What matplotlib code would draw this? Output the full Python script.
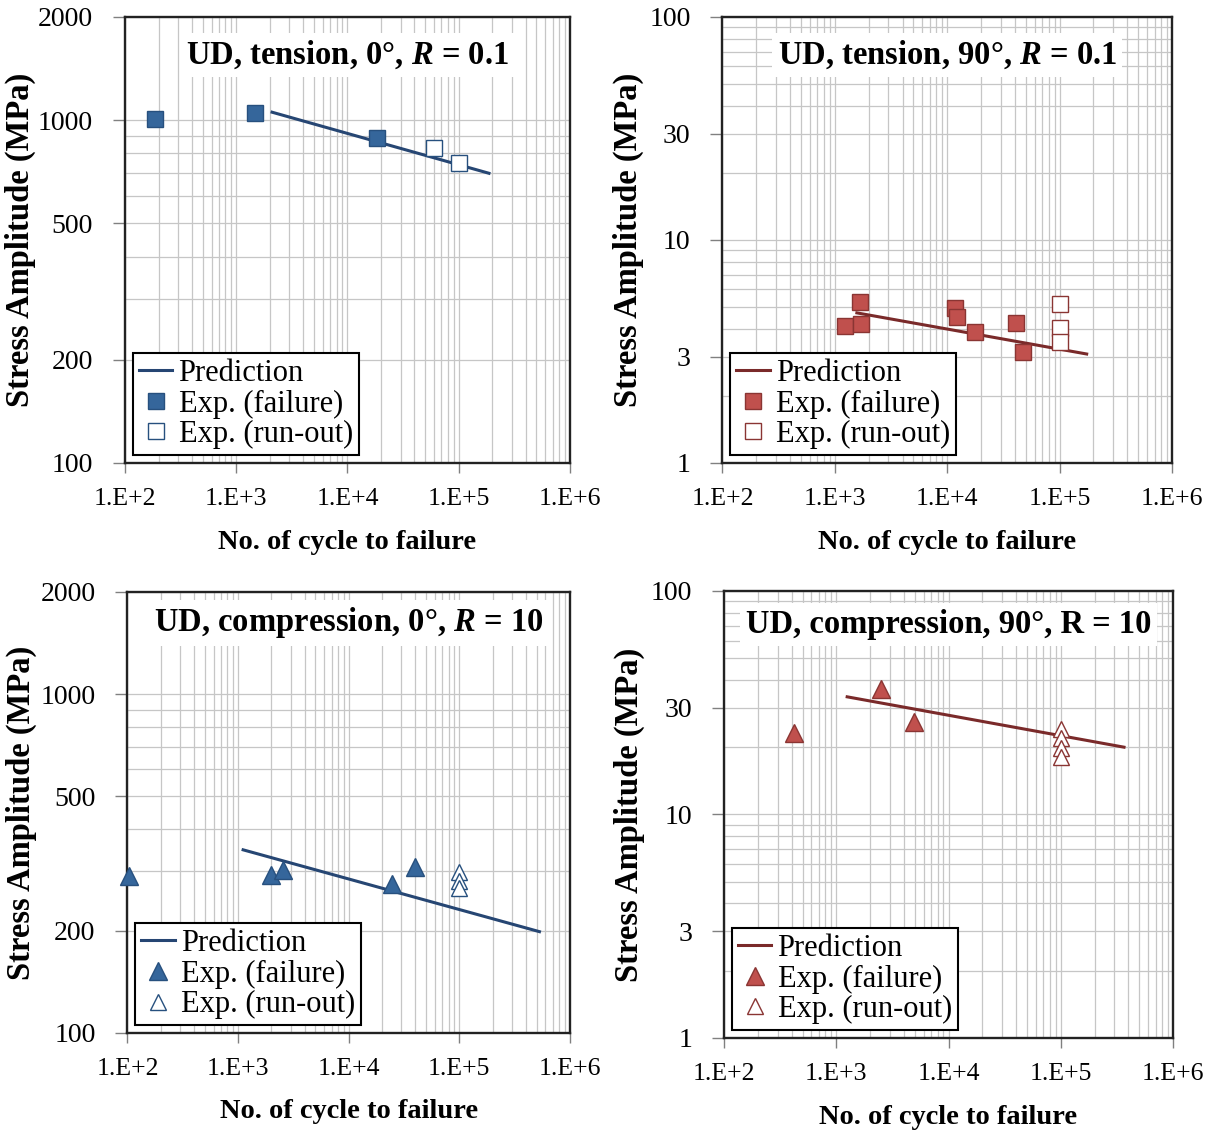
import numpy as np
import matplotlib
matplotlib.use('Agg')
from matplotlib import pyplot
from matplotlib.ticker import FixedLocator, NullFormatter, LogLocator, FixedFormatter

pyplot.rcParams['font.family'] = ['Liberation Serif', 'DejaVu Serif']
pyplot.rcParams['mathtext.fontset'] = 'custom'
pyplot.rcParams['mathtext.it'] = 'Liberation Serif:italic:bold'
pyplot.rcParams['mathtext.rm'] = 'Liberation Serif:bold'

BLUE_FILL = '#35669b'
BLUE_EDGE = '#27507e'
BLUE_LINE = '#264673'
RED_FILL = '#c0504d'
RED_EDGE = '#8a3533'
RED_LINE = '#7a2a2a'

X_LABEL = 'No. of cycle to failure'
Y_LABEL = 'Stress Amplitude (MPa)'
X_TICKS = [1e2, 1e3, 1e4, 1e5, 1e6]
X_TICK_LABELS = ['1.E+2', '1.E+3', '1.E+4', '1.E+5', '1.E+6']

# UD, tension, 0 deg
t0_fail_n = [185, 1480, 18600]
t0_fail_s = [1010, 1047, 887]
t0_run_n = [60000, 100000]
t0_run_s = [828, 750]
t0_pred_n = [2100, 187000]
t0_pred_s = [1055, 700]

# UD, tension, 90 deg
t90_fail_n = [1227, 1668, 1700, 11660, 12140, 17550, 40600, 46900]
t90_fail_s = [4.11, 5.27, 4.20, 4.96, 4.51, 3.87, 4.24, 3.15]
t90_run_n = [100000, 100000, 100000]
t90_run_s = [5.17, 4.03, 3.49]
t90_pred_n = [1570, 174000]
t90_pred_s = [4.71, 3.08]

# UD, compression, 0 deg
c0_fail_n = [103, 1990, 2550, 24700, 40000]
c0_fail_s = [290, 292, 303, 275, 309]
c0_run_n = [100000, 100000, 100000]
c0_run_s = [298, 280, 267]
c0_pred_n = [1110, 530000]
c0_pred_s = [347, 199]

# UD, compression, 90 deg
c90_fail_n = [422, 2520, 4970]
c90_fail_s = [23.2, 36.4, 25.9]
c90_run_n = [100000, 100000, 100000, 100000]
c90_run_s = [24.1, 22.0, 19.8, 18.1]
c90_pred_n = [1250, 366000]
c90_pred_s = [33.6, 20.0]

TOP_Y_TICKS = [100, 200, 500, 1000, 2000]
SMALL_Y_TICKS = [1, 3, 10, 30, 100]


def SetupAxis(ax, ylim, yticks, title, xlabel_y, ylabel_x, title_y):
    ax.set_xscale('log')
    ax.set_yscale('log')
    ax.set_xlim(1e2, 1e6)
    ax.set_ylim(*ylim)
    ax.xaxis.set_major_locator(FixedLocator(X_TICKS))
    ax.xaxis.set_major_formatter(FixedFormatter(X_TICK_LABELS))
    ax.xaxis.set_minor_locator(LogLocator(base=10, subs=np.arange(2, 10), numticks=20))
    ax.xaxis.set_minor_formatter(NullFormatter())
    ax.yaxis.set_major_locator(FixedLocator(yticks))
    ax.yaxis.set_major_formatter(FixedFormatter([str(t) for t in yticks]))
    ax.yaxis.set_minor_locator(LogLocator(base=10, subs=np.arange(1, 10), numticks=20))
    ax.yaxis.set_minor_formatter(NullFormatter())
    ax.tick_params(axis='x', which='major', direction='out', length=7, width=1,
                   color='#808080', labelsize=18.5, pad=11)
    ax.tick_params(axis='y', which='major', direction='out', length=9, width=1,
                   color='#808080', labelsize=20, pad=14)
    ax.tick_params(which='minor', length=0)
    ax.grid(True, which='both', color='#c6c6c6', linewidth=0.9)
    ax.set_axisbelow(True)
    for spine in ax.spines.values():
        spine.set_linewidth(1.7)
        spine.set_color('#222222')
    ax.set_xlabel(X_LABEL, fontsize=20.5, fontweight='bold')
    ax.set_ylabel(Y_LABEL, fontsize=23.5, fontweight='bold')
    ax.xaxis.set_label_coords(0.5, xlabel_y)
    ax.yaxis.set_label_coords(ylabel_x, 0.5)
    ax.text(0.5, title_y, title, transform=ax.transAxes, ha='center', va='center',
            fontsize=23.5, fontweight='bold', zorder=5,
            bbox=dict(facecolor='white', edgecolor='none', pad=4))


def PlotPanel(ax, fail_n, fail_s, run_n, run_s, pred_n, pred_s, marker, fill, edge, line):
    ax.plot(pred_n, pred_s, '-', color=line, linewidth=2.2, label='Prediction', zorder=3)
    size = 12 if marker == 's' else 13
    ax.plot(fail_n, fail_s, linestyle='none', marker=marker, markersize=size,
            markerfacecolor=fill, markeredgecolor=edge, markeredgewidth=1,
            label='Exp. (failure)', zorder=4, clip_on=False)
    ax.plot(run_n, run_s, linestyle='none', marker=marker, markersize=size - 1,
            markerfacecolor='white', markeredgecolor=edge, markeredgewidth=1,
            label='Exp. (run-out)', zorder=4, clip_on=False)
    leg = ax.legend(loc='lower left', fontsize=22, frameon=True, fancybox=False,
                    borderaxespad=0.25, handlelength=1.1, handletextpad=0.2,
                    labelspacing=0.05, borderpad=0.2)
    leg.get_frame().set_edgecolor('black')
    leg.get_frame().set_linewidth(1.5)
    leg.get_frame().set_alpha(1)
    leg.set_zorder(6)


fig = pyplot.figure(figsize=(12.21, 11.33), dpi=100)
ax1 = fig.add_axes([0.1024, 0.5914, 0.3644, 0.3936])
ax2 = fig.add_axes([0.5917, 0.5914, 0.3682, 0.3936])
ax3 = fig.add_axes([0.1044, 0.0883, 0.3624, 0.3892])
ax4 = fig.add_axes([0.5930, 0.0839, 0.3677, 0.3945])

SetupAxis(ax1, (100, 2000), TOP_Y_TICKS, 'UD, tension, 0°, $R$ = 0.1', -0.15, -0.2, 0.915)
PlotPanel(ax1, t0_fail_n, t0_fail_s, t0_run_n, t0_run_s, t0_pred_n, t0_pred_s,
          's', BLUE_FILL, BLUE_EDGE, BLUE_LINE)

SetupAxis(ax2, (1, 100), SMALL_Y_TICKS, 'UD, tension, 90°, $R$ = 0.1', -0.15, -0.175, 0.915)
PlotPanel(ax2, t90_fail_n, t90_fail_s, t90_run_n, t90_run_s, t90_pred_n, t90_pred_s,
          's', RED_FILL, RED_EDGE, RED_LINE)

SetupAxis(ax3, (100, 2000), TOP_Y_TICKS, 'UD, compression, 0°, $R$ = 10', -0.15, -0.205, 0.93)
PlotPanel(ax3, c0_fail_n, c0_fail_s, c0_run_n, c0_run_s, c0_pred_n, c0_pred_s,
          '^', BLUE_FILL, BLUE_EDGE, BLUE_LINE)

SetupAxis(ax4, (1, 100), SMALL_Y_TICKS, 'UD, compression, 90°, R = 10', -0.15, -0.175, 0.925)
PlotPanel(ax4, c90_fail_n, c90_fail_s, c90_run_n, c90_run_s, c90_pred_n, c90_pred_s,
          '^', RED_FILL, RED_EDGE, RED_LINE)

pyplot.savefig('out.png', dpi=100)
